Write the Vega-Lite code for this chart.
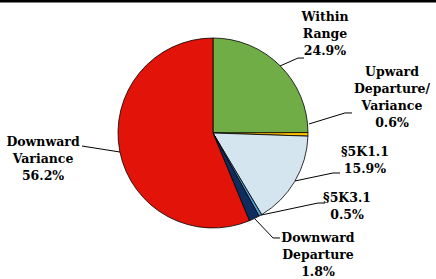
{
  "$schema": "https://vega.github.io/schema/vega-lite/v6.json",
  "width": 436,
  "height": 279,
  "autosize": {"type": "none"},
  "padding": 0,
  "background": "white",
  "config": {"view": {"stroke": null}},
  "datasets": {
    "slices": [
      {"cat": "Within Range", "pct": 24.9, "ord": 1},
      {"cat": "Upward Departure/Variance", "pct": 0.6, "ord": 2},
      {"cat": "§5K1.1", "pct": 15.9, "ord": 3},
      {"cat": "§5K3.1", "pct": 0.5, "ord": 4},
      {"cat": "Downward Departure", "pct": 1.8, "ord": 5},
      {"cat": "Downward Variance", "pct": 56.2, "ord": 6}
    ],
    "labels": [
      {"cat": "Within Range", "label": ["Within", "Range", "24.9%"], "u": 1.179, "v": 1.221},
      {"cat": "Upward Departure/Variance", "label": ["Upward", "Departure/", "Variance", "0.6%"], "u": 1.884, "v": 0.642},
      {"cat": "§5K1.1", "label": ["§5K1.1", "15.9%"], "u": 1.6, "v": -0.2},
      {"cat": "§5K3.1", "label": ["§5K3.1", "0.5%"], "u": 1.411, "v": -0.684},
      {"cat": "Downward Departure", "label": ["Downward", "Departure", "1.8%"], "u": 1.105, "v": -1.105},
      {"cat": "Downward Variance", "label": ["Downward", "Variance", "56.2%"], "u": -1.789, "v": -0.095}
    ],
    "leaders": [
      {"cat": "Within Range", "seq": 1, "u": 0.705, "v": 0.705},
      {"cat": "Within Range", "seq": 2, "u": 0.895, "v": 0.789},
      {"cat": "Within Range", "seq": 3, "u": 0.958, "v": 0.789},
      {"cat": "Upward Departure/Variance", "seq": 1, "u": 1.011, "v": 0.095},
      {"cat": "Upward Departure/Variance", "seq": 2, "u": 1.389, "v": 0.211},
      {"cat": "Upward Departure/Variance", "seq": 3, "u": 1.463, "v": 0.211},
      {"cat": "§5K1.1", "seq": 1, "u": 0.863, "v": -0.505},
      {"cat": "§5K1.1", "seq": 2, "u": 1.263, "v": -0.421},
      {"cat": "§5K1.1", "seq": 3, "u": 1.337, "v": -0.421},
      {"cat": "§5K3.1", "seq": 1, "u": 0.501, "v": -0.865},
      {"cat": "§5K3.1", "seq": 2, "u": 1.105, "v": -0.737},
      {"cat": "§5K3.1", "seq": 3, "u": 1.179, "v": -0.737},
      {"cat": "Downward Departure", "seq": 1, "u": 0.437, "v": -0.9},
      {"cat": "Downward Departure", "seq": 2, "u": 0.632, "v": -1.105},
      {"cat": "Downward Departure", "seq": 3, "u": 0.705, "v": -1.105},
      {"cat": "Downward Variance", "seq": 1, "u": -1.379, "v": -0.137},
      {"cat": "Downward Variance", "seq": 2, "u": -0.979, "v": -0.2}
    ]
  },
  "layer": [
    {
      "data": {"name": "slices"},
      "mark": {"type": "arc", "outerRadius": 95, "stroke": "#000000", "strokeWidth": 0.8},
      "encoding": {
        "x": {"datum": 0, "type": "quantitative", "scale": {"domain": [-2.2421, 2.3474], "nice": false, "zero": false}, "axis": null},
        "y": {"datum": 0, "type": "quantitative", "scale": {"domain": [-1.5368, 1.4], "nice": false, "zero": false}, "axis": null},
        "theta": {"field": "pct", "type": "quantitative", "stack": true},
        "order": {"field": "ord", "type": "quantitative"},
        "color": {
          "field": "cat", "type": "nominal", "legend": null,
          "scale": {
            "domain": ["Within Range", "Upward Departure/Variance", "§5K1.1", "§5K3.1", "Downward Departure", "Downward Variance"],
            "range": ["#70AD47", "#FFC000", "#D5E5F0", "#4A9FD6", "#0E2D5E", "#E2140A"]
          }
        }
      }
    },
    {
      "data": {"name": "leaders"},
      "mark": {"type": "line", "color": "#000000", "strokeWidth": 1},
      "encoding": {
        "x": {"field": "u", "type": "quantitative", "scale": {"domain": [-2.2421, 2.3474], "nice": false, "zero": false}, "axis": null},
        "y": {"field": "v", "type": "quantitative", "scale": {"domain": [-1.5368, 1.4], "nice": false, "zero": false}, "axis": null},
        "detail": {"field": "cat", "type": "nominal"},
        "order": {"field": "seq", "type": "quantitative"}
      }
    },
    {
      "data": {"name": "labels"},
      "mark": {"type": "text", "font": "DejaVu Serif", "fontWeight": "bold", "fontSize": 12.5, "lineHeight": 17, "align": "center", "baseline": "middle", "color": "#000000"},
      "encoding": {
        "x": {"field": "u", "type": "quantitative", "scale": {"domain": [-2.2421, 2.3474], "nice": false, "zero": false}, "axis": null},
        "y": {"field": "v", "type": "quantitative", "scale": {"domain": [-1.5368, 1.4], "nice": false, "zero": false}, "axis": null},
        "text": {"field": "label"}
      }
    },
    {
      "data": {"values": [{}]},
      "mark": {"type": "rule", "color": "#000000", "strokeWidth": 5},
      "encoding": {
        "x": {"datum": -2.2421, "type": "quantitative"},
        "x2": {"datum": 2.3474},
        "y": {"datum": 1.4, "type": "quantitative"}
      }
    }
  ]
}
